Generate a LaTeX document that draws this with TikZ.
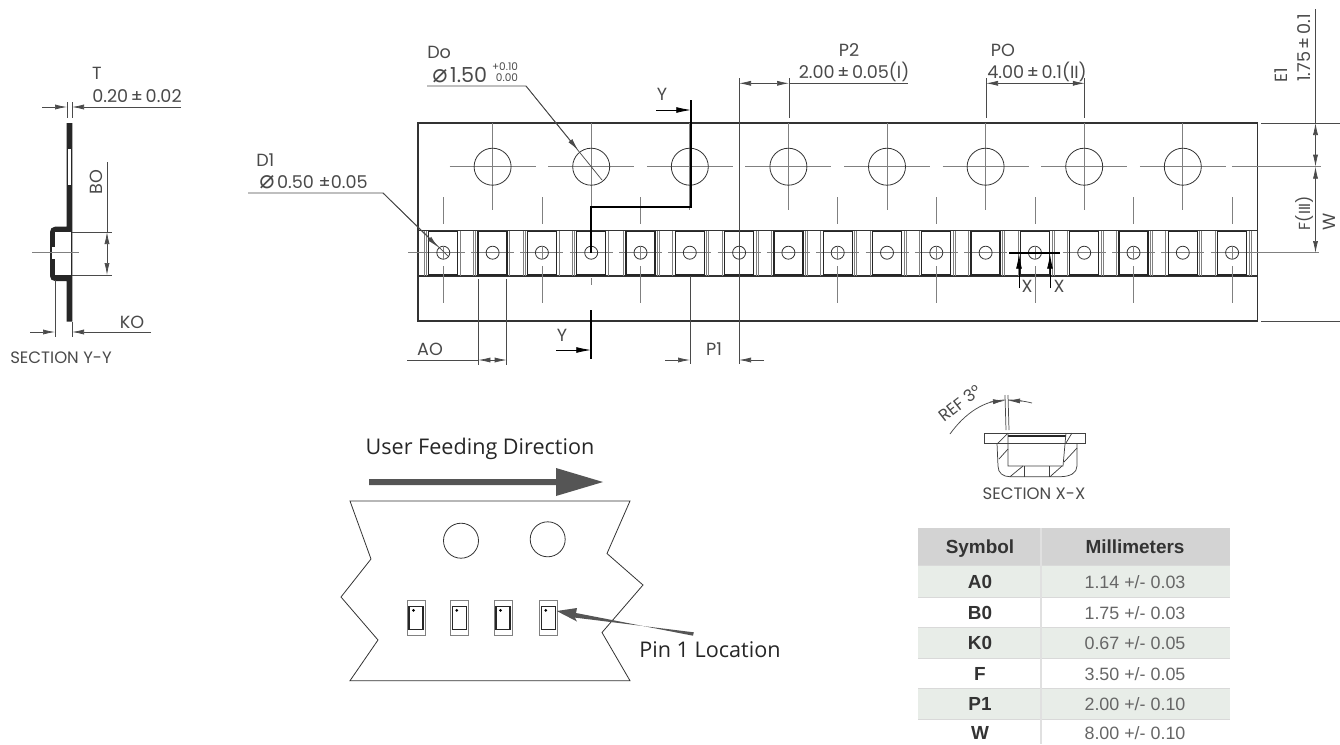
\documentclass[tikz,border=0pt]{standalone}
\usepackage{fontspec}
\setmainfont{Poppins}
\newfontfamily\symfont{DejaVu Sans}
\newfontfamily\userfont{Open Sans}
\newfontfamily\tablefont{Liberation Sans}
\usetikzlibrary{arrows.meta}

\definecolor{inkgray}{HTML}{4A4A4A}
\definecolor{arrowgray}{HTML}{555555}
\definecolor{headgray}{HTML}{D3D3D3}
\definecolor{rowgreen}{HTML}{E8EDE8}

\tikzset{
	dimline/.style={draw=inkgray, line width=0.55pt},
	dimtip/.style={dimline, -{Latex[length=9pt,width=3.8pt]}},
	cuttip/.style={draw=black, line width=0.6pt, -{Latex[length=11pt,width=4.4pt]}},
	centerline/.style={draw=gray, line width=0.55pt},
	outline/.style={draw=black!80, line width=0.8pt},
	thinline/.style={draw=black!75, line width=0.55pt},
	cutline/.style={draw=black, line width=1.6pt},
	dimtext/.style={text=inkgray, inner sep=0pt, font=\fontsize{13.2}{15}\selectfont},
	sectext/.style={text=inkgray, inner sep=0pt, font=\fontsize{12.4}{14}\selectfont},
	usertext/.style={text=black!85, inner sep=0pt, font=\userfont\fontsize{16.2}{19}\selectfont},
	headtext/.style={text=black!80, inner sep=0pt, anchor=base, font=\tablefont\bfseries\fontsize{14.2}{16}\selectfont},
	valtext/.style={text=black!60, inner sep=0pt, anchor=base, font=\tablefont\fontsize{13.4}{16}\selectfont},
}

\begin{document}
\begin{tikzpicture}[x=0.75pt,y=-0.75pt]

	\useasboundingbox (0,0) rectangle (1340,744);

	% section Y-Y
	\fill[black!85] (66.5,123) -- (72.3,123) -- (72.3,321.7) -- (66.5,321.7) -- (66.5,281) -- (55,281)
		.. controls (52,281) and (50,279) .. (50,276) -- (50,232) .. controls (50,229) and (52,226.7) .. (55,226.7)
		-- (66.5,226.7) -- cycle;
	\fill[white] (55.3,232) rectangle (71,275);
	\fill[white] (68,149) rectangle (71,185);
	\fill[white] (51.5,247) rectangle (55,259);
	\draw[centerline] (32,252.7) -- (79,252.7);

	\draw[dimline] (67,102) -- (67,118);
	\draw[dimline] (72,102) -- (72,118);
	\draw[dimtip] (42,107) -- (67,107);
	\draw[dimtip] (181,107) -- (72,107);
	\node[dimtext] (Tname) at (97,73) {T};
	\node[dimtext] (Tval) at (137,96) {0.20$\,$±$\,$0.02};

	\draw[dimline] (72,232) -- (112,232);
	\draw[dimline] (72,275) -- (112,275);
	\draw[dimtip] (107,254) -- (107,232);
	\draw[dimtip] (107,254) -- (107,275);
	\draw[dimline] (107,162) -- (107,232);
	\node[dimtext, rotate=90] (BOname) at (96,182) {BO};

	\draw[dimline] (55,280) -- (55,337);
	\draw[dimline] (72,322) -- (72,337);
	\draw[dimtip] (30,332) -- (55,332);
	\draw[dimtip] (151,332) -- (72,332);
	\node[dimtext] (KOname) at (132,322) {KO};
	\node[sectext] (secY) at (61,358) {SECTION Y-Y};

	% tape
	\draw[outline] (418,123) rectangle (1257.6,321);
	\draw[outline] (418,230.7) -- (1257.6,230.7);
	\draw[outline] (418,276) -- (1257.6,276);

	% sprocket holes
	\foreach \i in {0,...,7}{
		\pgfmathsetmacro{\cx}{492.6+98.6*\i}
		\draw[centerline] (\cx-43,166.7) -- (\cx+43,166.7);
		\draw[centerline] (\cx,123) -- (\cx,210);
		\draw[draw=black!80, line width=0.6pt] (\cx,166.7) circle[radius=18.5];
	}
	\draw[centerline] (1231.8,166.7) -- (1321,166.7);

	% pockets
	\foreach \i in {0,...,16}{
		\pgfmathsetmacro{\cx}{443.3+49.3*\i}
		\pgfmathsetmacro{\sx}{\i<4 ? -19 : 19}
		\draw[centerline] (\cx-21.5,252.7) -- (\cx+21.5,252.7);
		\draw[draw=gray, line width=0.5pt] (\cx-17,230.7) -- (\cx-17,276);
		\draw[draw=gray, line width=0.5pt] (\cx+17,230.7) -- (\cx+17,276);
		\draw[draw=gray, line width=0.5pt] (\cx+\sx,230.7) -- (\cx+\sx,276);
		\draw[draw=black!85, line width=1pt] (\cx-14.5,231.5) rectangle (\cx+14.5,275);
		\draw[draw=black!80, line width=0.6pt] (\cx,252.7) circle[radius=6.5];
	}
	\foreach \i in {0,2,...,16}{
		\pgfmathsetmacro{\cx}{443.3+49.3*\i}
		\draw[centerline] (\cx,197) -- (\cx,224);
		\draw[centerline] (\cx,246) -- (\cx,259);
		\draw[centerline] (\cx,266) -- (\cx,303);
	}
	\draw[centerline] (408,252.7) -- (422,252.7);
	\draw[centerline] (1254,252.7) -- (1319,252.7);

	% section line Y
	\draw[cutline] (691,100) -- (691,206.7) -- (591.3,206.7) -- (591.3,253);
	\draw[cutline] (591.3,310) -- (591.3,359);
	\draw[centerline] (591.3,278) -- (591.3,285);
	\draw[cuttip] (656,110) -- (691,110);
	\draw[cuttip] (556,350) -- (591,350);
	\node[dimtext] (Ytop) at (662,94) {Y};
	\node[dimtext] (Ybot) at (562,335) {Y};

	% section line X
	\draw[cutline] (1009,253) -- (1060,253);
	\draw[cuttip] (1019,288) -- (1019,254);
	\draw[cuttip] (1050,288) -- (1050,254);
	\node[dimtext] (Xleft) at (1027,286) {X};
	\node[dimtext] (Xright) at (1059,286) {X};

	% leaders
	\draw[dimline] (248,193) -- (383,193) -- (448,256);
	\draw[dimtip] (383,193) -- (438,247);
	\node[dimtext, anchor=west] (D1name) at (256,160) {D1};
	\node[dimtext, anchor=west] (D1val) at (259,182) {{\symfont\fontsize{19}{19}\selectfont ⌀}\hspace{2pt}0.50 ±0.05};

	\draw[dimline] (427,86) -- (526,86) -- (602,180);
	\draw[dimtip] (526,86) -- (578,150);
	\node[dimtext, anchor=west] (Doname) at (427,52) {Do};
	\node[dimtext, anchor=west, font=\fontsize{15.5}{17}\selectfont] (Doval) at (432,75) {{\symfont\fontsize{19}{19}\selectfont ⌀}\hspace{2pt}1.50};
	\node[text=inkgray, inner sep=0pt, font=\fontsize{7.9}{8.2}\selectfont, align=right] (Dotol) at (505,72.5) {+0.10\\0.00};

	% pitch dimensions
	\draw[dimline] (739,78) -- (739,364);
	\draw[dimline] (789,78) -- (789,118);
	\draw[dimtip] (770,83.3) -- (739,83.3);
	\draw[dimtip] (760,83.3) -- (789,83.3);
	\draw[dimline] (789,83.3) -- (908,83.3);
	\node[dimtext] (P2name) at (849,50) {P2};
	\node[dimtext] (P2val) at (854,72) {2.00$\,$±$\,$0.05(I)};

	\draw[dimline] (986,78) -- (986,118);
	\draw[dimline] (1084.8,78) -- (1084.8,118);
	\draw[dimtip] (1040,83.3) -- (986,83.3);
	\draw[dimtip] (1040,83.3) -- (1084.8,83.3);
	\node[dimtext] (POname) at (1003,50) {PO};
	\node[dimtext] (POval) at (1037,72) {4.00$\,$±$\,$0.1(II)};

	\draw[dimline] (478.4,279) -- (478.4,365);
	\draw[dimline] (506.7,279) -- (506.7,365);
	\draw[dimline] (407,360) -- (478.4,360);
	\draw[dimtip] (492,360) -- (478.4,360);
	\draw[dimtip] (492,360) -- (506.7,360);
	\node[dimtext] (AOname) at (430,349) {AO};

	\draw[dimline] (690,276) -- (690,364);
	\draw[dimtip] (665,360) -- (690,360);
	\draw[dimtip] (764,360) -- (739,360);
	\node[dimtext] (P1name) at (714,349) {P1};

	% right hand dimensions
	\draw[dimline] (1261,123) -- (1340,123);
	\draw[dimline] (1261,321) -- (1340,321);
	\draw[dimline] (1315.5,9) -- (1315.5,123);
	\draw[dimtip] (1315.5,145) -- (1315.5,123);
	\draw[dimtip] (1315.5,145) -- (1315.5,166.7);
	\draw[dimtip] (1315.5,210) -- (1315.5,166.7);
	\draw[dimtip] (1315.5,210) -- (1315.5,253);
	\node[dimtext, rotate=90] (E1name) at (1281,75) {E1};
	\node[dimtext, rotate=90] (E1val) at (1304.5,48) {1.75$\,$±$\,$0.1};
	\node[dimtext, rotate=90, font=\fontsize{12}{14}\selectfont] (Fname) at (1304.5,213) {F(III)};
	\node[dimtext, rotate=90] (Wname) at (1329,222) {W};

	% section X-X
	\draw[thinline] (984,433) rectangle (1085,443);
	\draw[draw=black!85, line width=1pt] (1008,436) -- (1066,436);
	\draw[thinline] (1008,433) -- (1008,466) -- (1063,466) -- (1066,433);
	\draw[thinline] (997,443) -- (998,466) .. controls (998,473) and (1003,476.7) .. (1010,476.7)
		-- (1060,476.7) .. controls (1070,476.7) and (1077,473) .. (1077,466) -- (1077,443);
	\draw[thinline] (1024,466) -- (1024,476.7);
	\draw[thinline] (1049,466) -- (1049,476.7);
	\draw[thinline] (998,443) -- (1008,433);
	\draw[thinline] (999,459) -- (1008,449);
	\draw[thinline] (1010,476.7) -- (1023,466);
	\draw[thinline] (1050,476.7) -- (1062,466);
	\draw[thinline] (1066,443) -- (1072,433);
	\draw[thinline] (1064,462) -- (1077,448);
	\draw[dimline] (1006,430) -- (1005,395);
	\draw[dimline] (1009,430) -- (1008,395);
	\draw[dimline] (950,434) .. controls (965,413) and (985,400) .. (1005,400);
	\draw[dimline] (1008,400) .. controls (1016,400) and (1024,401) .. (1032,403);
	\draw[dimtip] (990,402) -- (1005,400.5);
	\draw[dimtip] (1022,401) -- (1008,400.5);
	\node[sectext, rotate=38, font=\fontsize{12.5}{14}\selectfont] (REFname) at (960,403) {REF 3°};
	\node[sectext] (secX) at (1034,494) {SECTION X-X};

	% user feeding sketch
	\node[usertext] (feedname) at (480,449) {User Feeding Direction};
	\fill[arrowgray] (369,479) -- (556,479) -- (556,468) -- (603,482) -- (556,496) -- (556,485) -- (369,485) -- cycle;
	\draw[draw=black!80, line width=0.6pt] (350,501) -- (630,501) -- (607,553.5) -- (643,585) -- (602,632.5) -- (630,680.7)
		-- (350,680.7) -- (378,640) -- (341,597) -- (371,559) -- cycle;
	\draw[draw=black!80, line width=0.6pt] (461,540.7) circle[radius=17.5];
	\draw[draw=black!80, line width=0.6pt] (547.7,539.3) circle[radius=17.5];
	\foreach \cx in {416,459.3,503,548.3}{
		\draw[draw=gray, line width=0.6pt] (\cx-9,600.7) rectangle (\cx+9,635);
		\draw[draw=black!85, line width=0.9pt] (\cx-7,606.7) rectangle (\cx+7,629.3);
		\fill[black] (\cx-2.5,610.3) circle[radius=1.5];
	}
	\fill[arrowgray] (693.8,632.3) -- (575,617.6) -- (577,621.5) -- (556.7,611) -- (577,608) -- (576,613) -- (693,635.7) -- cycle;
	\node[usertext] (pinname) at (710,650) {Pin 1 Location};

	% table
	\fill[headgray] (918,528) rectangle (1230,565);
	\fill[rowgreen] (918,565) rectangle (1230,597);
	\fill[rowgreen] (918,627) rectangle (1230,658);
	\fill[rowgreen] (918,688) rectangle (1230,719);
	\foreach \y in {565,597,627,658,688,719}{
		\draw[draw=black!15, line width=0.6pt] (918,\y) -- (1230,\y);
	}
	\draw[draw=black!12, line width=0.8pt] (1041,528) -- (1041,744);
	\node[headtext] (symhead) at (980,553.5) {Symbol};
	\node[headtext] (mmhead) at (1135,553.5) {Millimeters};
	\node[headtext] (symA) at (980,588) {A0};
	\node[valtext] (valA) at (1135,588) {1.14 +/- 0.03};
	\node[headtext] (symB) at (980,619) {B0};
	\node[valtext] (valB) at (1135,619) {1.75 +/- 0.03};
	\node[headtext] (symK) at (980,649) {K0};
	\node[valtext] (valK) at (1135,649) {0.67 +/- 0.05};
	\node[headtext] (symF) at (980,680) {F};
	\node[valtext] (valF) at (1135,680) {3.50 +/- 0.05};
	\node[headtext] (symP) at (980,710) {P1};
	\node[valtext] (valP) at (1135,710) {2.00 +/- 0.10};
	\node[headtext] (symW) at (980,739) {W};
	\node[valtext] (valW) at (1135,739) {8.00 +/- 0.10};

\end{tikzpicture}
\end{document}
